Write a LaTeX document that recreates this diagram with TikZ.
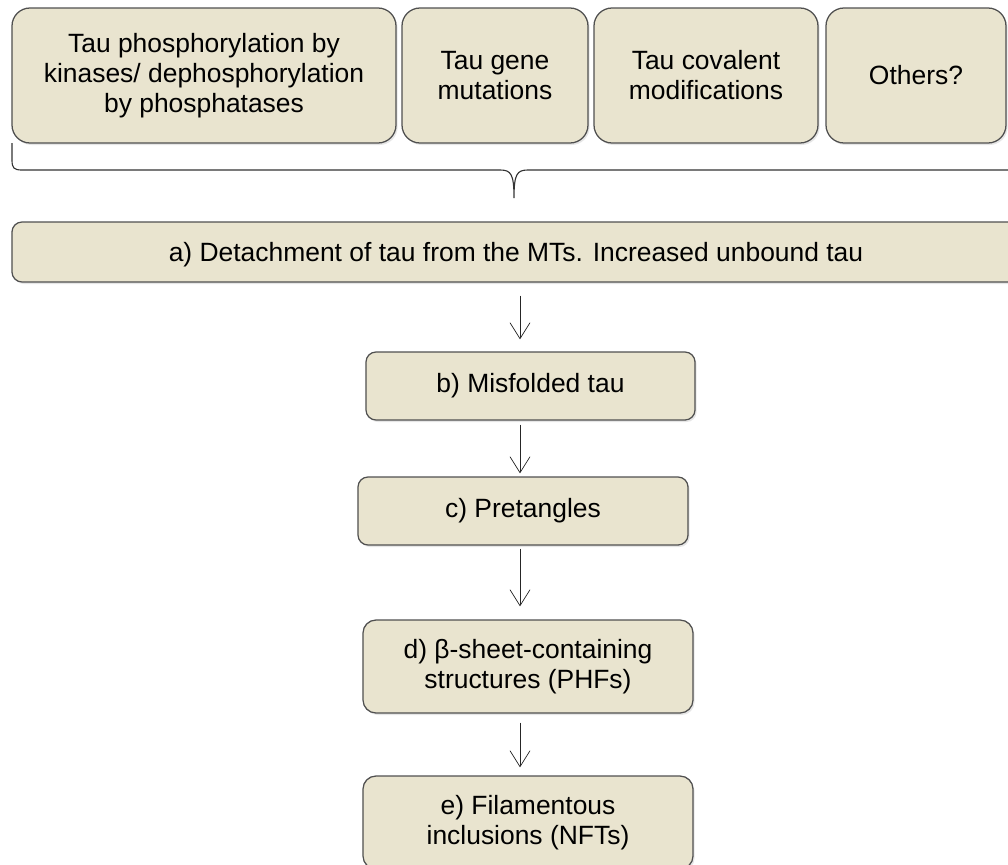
\documentclass[tikz,border=0pt]{standalone}
\usepackage{fontspec}
\setmainfont{Liberation Sans}
\usetikzlibrary{arrows.meta,shadows}
\definecolor{boxfill}{RGB}{233,228,207}
\definecolor{boxline}{RGB}{80,80,80}
\tikzset{
  stage/.style={draw=boxline, fill=boxfill, line width=0.9pt, rounded corners=2.5mm,
    align=center, inner sep=0pt, font=\fontsize{18.8}{21.4}\selectfont,
    drop shadow={opacity=0.2, shadow xshift=0.4mm, shadow yshift=-0.5mm}},
  flow/.style={-{Straight Barb[length=4mm,width=5mm]}, line width=0.5pt, black!85},
  bracket/.style={line width=0.8pt, black!80}
}
\begin{document}
\begin{tikzpicture}[x=0.25mm,y=-0.25mm]
  \useasboundingbox (0,0) rectangle (1008,865);
  % causes
  \node[stage, rounded corners=4.5mm, minimum width=96mm, minimum height=33.75mm] (phos) at (204,75.5) {Tau phosphorylation by\\kinases/ dephosphorylation\\by phosphatases};
  \node[stage, rounded corners=4.5mm, minimum width=46.5mm, minimum height=33.75mm] (mut) at (495,75.5) {Tau gene\\mutations};
  \node[stage, rounded corners=4.5mm, minimum width=56mm, minimum height=33.75mm] (cov) at (706,75.5) {Tau covalent\\modifications};
  \node[stage, rounded corners=4.5mm, minimum width=45mm, minimum height=33.75mm] (oth) at (916,75.5) {Others?};
  % brace under the causes
  \draw[bracket] (12,143) -- (12,160) .. controls (12,168) and (14,170) .. (22,170) -- (500,170)
    .. controls (511,170) and (514,174) .. (514,198) .. controls (514,174) and (517,170) .. (528,170) -- (1020,170);
  % stages
  \node[stage, minimum width=252mm, minimum height=15mm, text depth=0pt] (detach) at (516,252) {a) Detachment of tau from the MTs. Increased unbound tau};
  \node[stage, minimum width=82.25mm, minimum height=17mm] (misfold) at (530.5,386) {b) Misfolded tau};
  \node[stage, minimum width=82.5mm, minimum height=17mm] (pretangle) at (523,511) {c) Pretangles};
  \node[stage, rounded corners=3.25mm, minimum width=82.5mm, minimum height=23.25mm] (sheet) at (528,666.5) {d) β-sheet-containing\\structures (PHFs)};
  \node[stage, rounded corners=3.25mm, minimum width=82.5mm, minimum height=23.25mm] (nft) at (528,822.5) {e) Filamentous\\inclusions (NFTs)};
  \coordinate (axis) at (520,0);
  \foreach \src/\dst/\gs/\ge in {detach/misfold/3.25mm/3mm, misfold/pretangle/1mm/0.75mm, pretangle/sheet/0.75mm/3.25mm, sheet/nft/2.25mm/2mm}
    \draw[flow, shorten <=\gs, shorten >=\ge] (\src.south -| axis) -- (\dst.north -| axis);
\end{tikzpicture}
\end{document}
